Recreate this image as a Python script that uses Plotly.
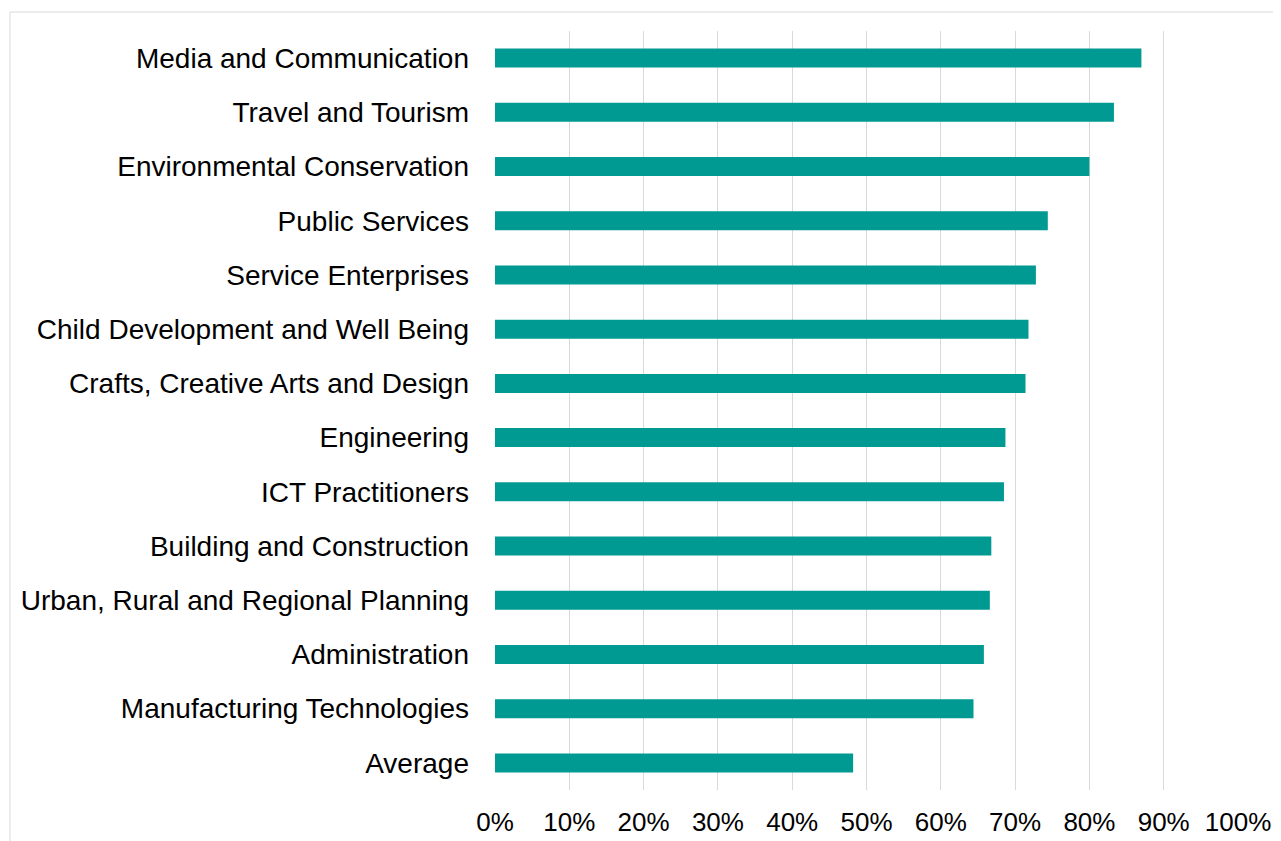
import plotly.graph_objects as go

categories = [
    "Media and Communication",
    "Travel and Tourism",
    "Environmental Conservation",
    "Public Services",
    "Service Enterprises",
    "Child Development and Well Being",
    "Crafts, Creative Arts and Design",
    "Engineering",
    "ICT Practitioners",
    "Building and Construction",
    "Urban, Rural and Regional Planning",
    "Administration",
    "Manufacturing Technologies",
    "Average",
]
values = [0.870, 0.833, 0.800, 0.744, 0.728, 0.718, 0.714, 0.687, 0.685, 0.668, 0.666, 0.658, 0.644, 0.482]
tick_vals = [i / 10 for i in range(11)]
tick_text = [f"{i * 10}%" for i in range(11)]

fig = go.Figure(go.Bar(
    x=values,
    y=categories,
    orientation="h",
    marker_color="#009A93",
    marker_line_width=0,
))

# page body has an 8px margin, so the figure is sized to fit the window
fig.update_layout(
    width=1273, height=833,
    margin=dict(l=487, r=43, t=23, b=51),
    plot_bgcolor="white", paper_bgcolor="white",
    font=dict(family="Liberation Sans, Arial, sans-serif", size=26, color="black"),
    bargap=0.65,
    showlegend=False,
)
fig.update_xaxes(
    range=[0, 1], tickvals=tick_vals, ticktext=tick_text,
    showgrid=True, gridcolor="#d9d9d9", gridwidth=1,
    zeroline=False, showline=False, ticks="", ticklabelstandoff=14,
    tickfont=dict(size=26), automargin=False,
)
fig.update_yaxes(
    autorange="reversed", showgrid=False, showline=False, ticks="",
    ticklabelstandoff=25, tickfont=dict(size=28), automargin=False,
)
# outer chart frame
fig.add_shape(type="rect", xref="paper", yref="paper",
              x0=-0.6528, x1=1.2, y0=-0.2, y1=1.025,
              line=dict(color="#d9d9d9", width=1), layer="below")

fig.write_html("out.html")
